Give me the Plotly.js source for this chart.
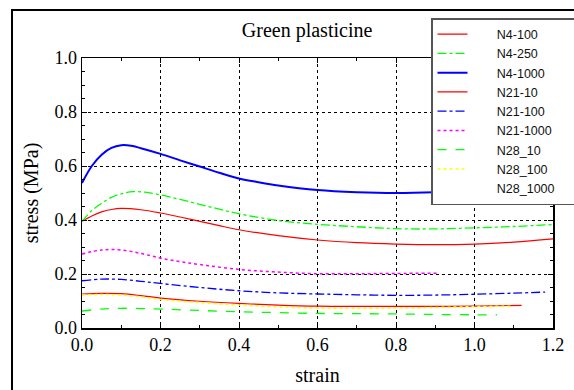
<!DOCTYPE html>
<html>
<head>
<meta charset="utf-8">
<script src="https://cdn.plot.ly/plotly-3.0.1.min.js"></script>
<style>html,body{margin:0;padding:0;background:#fff;}#chart{width:574px;height:390px;}</style>
</head>
<body>
<div id="chart"></div>
<script>
// Data
const names = ["N4-100","N4-250","N4-1000","N21-10","N21-100","N21-1000","N28_10","N28_100","N28_1000"];

const n4_100_x = [0,0.025,0.05,0.075,0.1,0.15,0.2,0.25,0.3,0.35,0.4,0.5,0.6,0.7,0.8,0.9,1.0,1.1,1.2];
const n4_100_y = [0.395,0.415,0.430,0.439,0.443,0.438,0.426,0.411,0.395,0.379,0.364,0.342,0.326,0.316,0.311,0.309,0.311,0.318,0.330];

const n4_250_x = [0,0.025,0.05,0.075,0.1,0.13,0.16,0.2,0.25,0.3,0.35,0.4,0.5,0.6,0.7,0.8,0.9,1.0,1.1,1.2];
const n4_250_y = [0.394,0.435,0.462,0.484,0.497,0.505,0.503,0.493,0.476,0.458,0.440,0.423,0.398,0.384,0.375,0.368,0.367,0.371,0.376,0.383];

const n4_1000_x = [0,0.025,0.05,0.075,0.1,0.125,0.15,0.2,0.25,0.3,0.35,0.4,0.45,0.5,0.6,0.7,0.8,0.9,1.0,1.1];
const n4_1000_y = [0.537,0.600,0.642,0.667,0.677,0.675,0.666,0.645,0.621,0.598,0.575,0.554,0.540,0.528,0.511,0.503,0.500,0.503,0.510,0.520];

const n21_10_x = [0,0.05,0.1,0.15,0.2,0.3,0.4,0.5,0.6,0.7,0.8,0.9,1.0,1.12];
const n21_10_y = [0.126,0.128,0.127,0.120,0.111,0.099,0.091,0.085,0.081,0.080,0.080,0.080,0.081,0.084];

const n21_100_x = [0,0.05,0.1,0.15,0.2,0.3,0.4,0.5,0.6,0.7,0.8,0.9,1.0,1.1,1.18];
const n21_100_y = [0.175,0.181,0.180,0.173,0.165,0.150,0.138,0.130,0.126,0.123,0.121,0.122,0.125,0.129,0.133];

const n21_1000_x = [0,0.05,0.1,0.15,0.2,0.25,0.3,0.4,0.5,0.6,0.7,0.8,0.91];
const n21_1000_y = [0.274,0.289,0.289,0.276,0.259,0.246,0.235,0.217,0.207,0.201,0.201,0.202,0.203];

const n28_10_x = [0,0.05,0.1,0.15,0.2,0.3,0.4,0.5,0.6,0.7,0.8,0.9,1.0,1.057];
const n28_10_y = [0.063,0.070,0.073,0.072,0.070,0.065,0.060,0.057,0.054,0.053,0.052,0.050,0.049,0.049];

const n28_100_x = [0,0.05,0.1,0.15,0.2,0.3,0.4,0.5,0.6,0.7,0.8,0.9,1.0,1.095];
const n28_100_y = [0.122,0.124,0.122,0.115,0.106,0.094,0.085,0.078,0.074,0.073,0.074,0.076,0.079,0.081];

// N28_1000 appears only in the legend, with no drawn curve
const n28_1000_x = [null];
const n28_1000_y = [null];

const xTicks = [0,0.2,0.4,0.6,0.8,1.0,1.2];
const xTickText = ["0.0","0.2","0.4","0.6","0.8","1.0","1.2"];
const yTicks = [0,0.2,0.4,0.6,0.8,1.0];
const yTickText = ["0.0","0.2","0.4","0.6","0.8","1.0"];

const pad = "\u00a0\u00a0\u00a0\u00a0\u00a0\u00a0\u00a0";
const tail = "\u00a0\u00a0\u00a0\u00a0";

function tr(x, y, name, color, dash, width) {
  return {x: x, y: y, name: pad + name + tail, type: "scatter", mode: "lines",
    line: {color: color, dash: dash, width: width, shape: "spline", smoothing: 1}};
}

const data = [
  tr(n4_100_x, n4_100_y, names[0], "#ff0000", "solid", 1.2),
  tr(n4_250_x, n4_250_y, names[1], "#00ff00", "dashdot", 1.3),
  tr(n4_1000_x, n4_1000_y, names[2], "#0000ff", "solid", 2),
  tr(n21_10_x, n21_10_y, names[3], "#ff0000", "solid", 1.2),
  tr(n21_100_x, n21_100_y, names[4], "#0000ff", "dashdot", 1.3),
  tr(n21_1000_x, n21_1000_y, names[5], "#ff00ff", "dot", 1.5),
  tr(n28_10_x, n28_10_y, names[6], "#00ff00", "dash", 1.3),
  tr(n28_100_x, n28_100_y, names[7], "#ffff00", "dot", 1.5),
  tr(n28_1000_x, n28_1000_y, names[8], "rgba(0,0,0,0)", "solid", 1.2)
];

const serif = "Liberation Serif, Times New Roman, serif";
const axisCommon = {
  showline: true, linecolor: "#000", linewidth: 1.5, mirror: "allticks",
  ticks: "inside", ticklen: 5, tickcolor: "#000", tickwidth: 1,
  showgrid: true, gridcolor: "#000", gridwidth: 1, griddash: "dot",
  zeroline: false, tickfont: {family: serif, size: 18, color: "#000"}
};

const layout = {
  width: 574, height: 390,
  margin: {l: 82, r: 21, t: 58, b: 62, autoexpand: false},
  paper_bgcolor: "#fff", plot_bgcolor: "#fff",
  title: {text: "Green plasticine", font: {family: serif, size: 20, color: "#000"},
          x: 0.535, xanchor: "center", y: 0.923, yanchor: "middle"},
  xaxis: Object.assign({}, axisCommon, {
    range: [0, 1.2], tickvals: xTicks, ticktext: xTickText,
    minor: {dtick: 0.1, ticks: "inside", ticklen: 3, tickcolor: "#000", showgrid: false},
    title: {text: "strain", font: {family: serif, size: 20, color: "#000"}, standoff: 14}
  }),
  yaxis: Object.assign({}, axisCommon, {
    range: [0, 1.0], tickvals: yTicks, ticktext: yTickText,
    minor: {dtick: 0.05, ticks: "inside", ticklen: 3, tickcolor: "#000", showgrid: false},
    title: {text: "stress (MPa)", font: {family: serif, size: 20, color: "#000"}, standoff: 10}
  }),
  showlegend: true,
  legend: {x: 0.741, xanchor: "left", y: 1.148, yanchor: "top",
    bgcolor: "#fff", bordercolor: "#555", borderwidth: 1.5,
    font: {family: "Liberation Sans, Arial, sans-serif", size: 12.5, color: "#111"},
    itemclick: false, traceorder: "normal"},
  shapes: [
    {type: "rect", xref: "paper", yref: "paper", x0: -0.1486, x1: 1.06, y0: -0.3, y1: 1.1778,
     line: {color: "#000", width: 2}, fillcolor: "rgba(0,0,0,0)", layer: "below"}
  ]
};

Plotly.newPlot("chart", data, layout, {staticPlot: true});
</script>
</body>
</html>
